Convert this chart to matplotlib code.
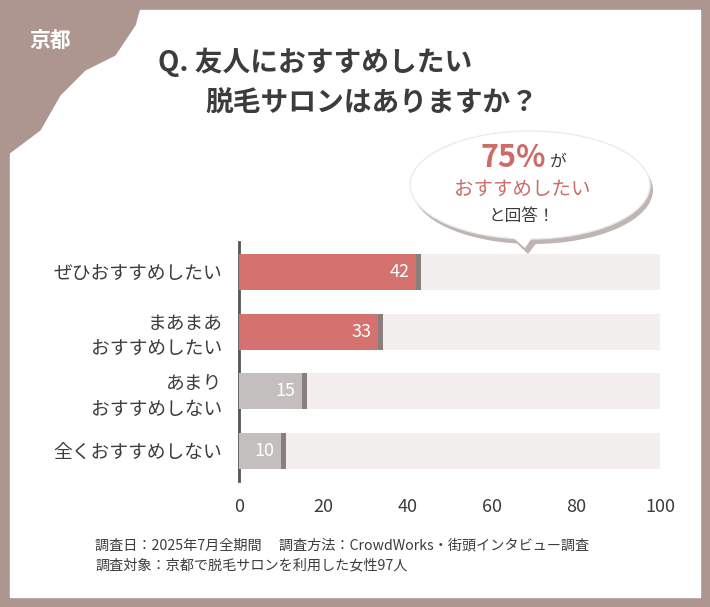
import matplotlib
matplotlib.use("Agg")
import matplotlib.pyplot as plt
from matplotlib.patches import Ellipse, Polygon
import matplotlib.patches as mpatches

plt.rcParams['font.family'] = ['Noto Sans CJK JP']

categories = ["ぜひおすすめしたい", "まあまあ\nおすすめしたい", "あまり\nおすすめしない", "全くおすすめしない"]
values = [42, 33, 15, 10]
colors = ["#d4726f", "#d4726f", "#c4bfbf", "#c4bfbf"]
xticks = [0, 20, 40, 60, 80, 100]

fig = plt.figure(figsize=(7.1, 6.07), dpi=100)
fig.patch.set_facecolor("#ad968f")
bg = fig.add_axes([0, 0, 1, 1])
bg.set_xlim(0, 710); bg.set_ylim(607, 0); bg.axis("off")
bg.add_patch(mpatches.Rectangle((10, 10), 690, 587, color="white"))
bg.add_patch(Polygon([(0, 0), (142, 0), (135, 25), (115, 55), (85, 70), (60, 95), (40, 130), (0, 160)], closed=True, color="#ad968f"))
bg.text(50, 40, "京都", color="white", fontsize=15, fontweight="bold", ha="center", va="center")
bg.text(158, 62, "Q. 友人におすすめしたい", fontsize=20, fontweight="bold", color="#3c3c3c", va="center")
bg.text(205, 104, "脱毛サロンはありますか？", fontsize=20, fontweight="bold", color="#3c3c3c", va="center")
# bubble with shadow
bg.add_patch(Ellipse((533, 190), 240, 108, facecolor="#bfb5b2", edgecolor="none"))
bg.add_patch(Polygon([(505, 232), (545, 232), (528, 254)], closed=True, facecolor="#bfb5b2", edgecolor="none"))
bg.add_patch(Ellipse((530, 185), 240, 108, facecolor="white", edgecolor="#eeeaea", lw=1))
bg.add_patch(Polygon([(500, 226), (540, 226), (525, 248)], closed=True, facecolor="white", edgecolor="none"))
bg.text(513, 158, "75%", fontsize=22, fontweight="bold", color="#cc6b68", ha="center", va="center")
bg.text(558, 162, "が", fontsize=12, color="#3c3c3c", ha="center", va="center")
bg.text(522, 189, "おすすめしたい", fontsize=14, color="#cc6b68", ha="center", va="center")
bg.text(522, 216, "と回答！", fontsize=12, color="#3c3c3c", ha="center", va="center")
bg.text(95, 545, "調査日：2025年7月全期間　 調査方法：CrowdWorks・街頭インタビュー調査", fontsize=10.2, color="#3c3c3c", va="center")
bg.text(95, 565, "調査対象：京都で脱毛サロンを利用した女性97人", fontsize=10.2, color="#3c3c3c", va="center")

ax = fig.add_axes([239/710, 1-481/607, (660-239)/710, (481-242)/607])
ax.set_facecolor("none")
y = list(range(len(categories)))
h = 0.6
ax.barh(y, [100]*4, height=h, color="#f3efee", zorder=1)
ax.barh(y, [v + 1.2 for v in values], height=h, left=0, color="#8a7f7c", zorder=2)
ax.barh(y, values, height=h, color=colors, zorder=3)
for yi, v in zip(y, values):
    ax.text(v - 1.5, yi, str(v), color="white", fontsize=13, ha="right", va="center", zorder=4)
ax.set_ylim(3.5, -0.5)
ax.set_xlim(0, 100)
ax.set_yticks(y)
ax.set_yticklabels(categories, fontsize=13.5, color="#3c3c3c", linespacing=1.3)
ax.set_xticks(xticks)
ax.set_xticklabels([str(t) for t in xticks], fontsize=13, color="#3c3c3c")
ax.tick_params(length=0, pad=12)
for s in ["top", "right", "bottom"]:
    ax.spines[s].set_visible(False)
ax.spines["left"].set_color("#555555")
ax.spines["left"].set_linewidth(2)
fig.savefig("out.png", dpi=100, facecolor=fig.get_facecolor())
